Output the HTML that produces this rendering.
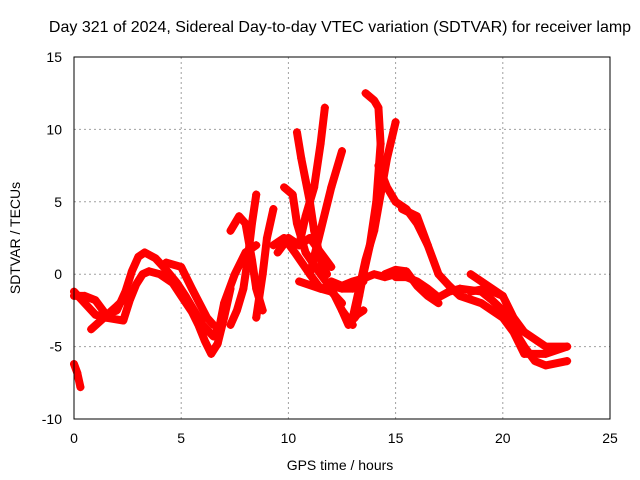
<!DOCTYPE html>
<html><head><meta charset="utf-8"><style>
body{margin:0;background:#fff}
svg{display:block;font-family:"Liberation Sans",sans-serif}
</style></head><body>
<svg id="chart" width="640" height="480">
<rect width="640" height="480" fill="#fff"/>
<text x="340" y="32" font-size="16" text-anchor="middle">Day 321 of 2024, Sidereal Day-to-day VTEC variation (SDTVAR) for receiver lamp</text>
<text x="340" y="470" font-size="14" text-anchor="middle">GPS time / hours</text>
<text x="20" y="238" font-size="14" text-anchor="middle" transform="rotate(-90 20 238)">SDTVAR / TECUs</text>
<g id="grid"></g><g id="ticks"></g><g id="marks"></g>
<rect x="74" y="57" width="536" height="362" fill="none" stroke="#000"/>
</svg>
<script>
const xTicks=[0,5,10,15,20,25];
const yTicks=[-10,-5,0,5,10,15];
const track1=[[0,-6.2],[0.15,-6.8],[0.3,-7.8]];
const track2=[[0,-1.5],[0.5,-1.5],[1,-1.8],[1.5,-2.8],[2,-2.5],[2.4,-1.2],[2.7,0.2],[3,1.2],[3.3,1.5],[3.8,1.1],[4.3,0.3],[4.8,-0.6],[5.2,-1.5],[5.6,-2.5],[6,-3.5],[6.5,-4.3],[6.8,-3.5],[7,-2],[7.5,0],[8,1.5],[8.5,2]];
const track3=[[0,-1.2],[0.5,-2],[1,-2.8],[1.5,-3],[2.3,-3.2],[2.6,-1.8],[2.9,-0.7],[3.2,0],[3.5,0.2],[4,0],[4.6,-0.6],[5,-1.5],[5.5,-2.6],[5.8,-3.5],[6.1,-4.6],[6.4,-5.5],[6.7,-4.8],[7,-3],[7.3,-1]];
const track3b=[[0.8,-3.8],[1.4,-3],[2,-2.2],[2.5,-1.5]];
const track3c=[[4.3,0.8],[5,0.5],[5.5,-1],[6.2,-3],[6.5,-3.5]];
const track4=[[15,-0.2],[15.5,-0.2],[16,-0.5],[16.5,-1],[17,-1.6],[17.5,-1.2],[18,-1],[19,-1.2],[19.5,-1.8],[20,-2.5],[20.5,-3.8],[21,-5],[21.5,-6],[22,-6.3],[23,-6]];
const track5=[[15.3,4.5],[16,4],[16.5,2],[17,0],[17.5,-0.8],[18,-1.5],[19,-2],[20,-3],[20.5,-4],[21,-5.5],[22,-5.5],[23,-5]];
const track6=[[18.5,0],[19,-0.5],[19.5,-1],[20,-1.5],[20.5,-3],[21,-4],[21.5,-4.5],[22,-5],[23,-5]];
const track7=[[18.5,-1.2],[19.2,-1],[20,-1.5]];
const track8=[[13.6,12.5],[14,12],[14.2,11.5],[14.3,9],[14.1,5],[13.8,2],[13.5,0],[13.3,-1.5],[13.1,-3]];
const track9=[[13,-3],[13.3,-1],[13.6,1],[14,3],[14.3,5.5],[14.6,8],[15,10.5]];
const track10=[[14.2,7.5],[14.6,6],[15,5],[15.5,4.5],[16,3.5],[16.5,2]];
const track11=[[10.4,9.8],[10.6,8],[10.8,6.5],[11,5],[11.2,3],[11.5,1],[11.8,0]];
const track12=[[10.5,2],[10.8,4],[11.2,6],[11.5,9],[11.7,11.5]];
const track13=[[11,0],[11.5,3],[12,6],[12.5,8.5]];
const track14=[[9.8,6],[10.2,5.5],[10.4,3.5],[10.8,1.5],[11.5,0],[12,-1],[12.5,-2.5],[13,-3.5]];
const track15=[[9.3,2],[9.8,2.5],[10.3,1.5],[11,0],[11.5,-1],[12,-1.2],[12.5,-2]];
const track16=[[8.5,5.5],[8.3,3.5],[8.1,1],[7.9,-1],[7.6,-2.5],[7.3,-3.5]];
const track17=[[7.3,3],[7.7,4],[8,3.5],[8.3,1],[8.5,-1],[8.8,-2.5]];
const track18=[[8.5,-3],[8.8,0],[9,2.5],[9.3,4.5]];
const track19=[[12,-0.5],[12.5,-0.8],[13,-0.5],[13.5,-0.3],[14,0],[14.5,-0.2],[15,0],[15.5,0]];
const track20=[[10.5,-0.5],[11.5,-1],[12,-0.8],[12.5,-1],[13,-1],[13.5,-0.5]];
const track21=[[14.5,0],[15,0.3],[15.5,0.2],[16,-0.8],[16.5,-1.5],[17,-2]];
const track22=[[12.5,-2.5],[12.8,-3.5],[13.2,-2.8],[13.5,-2.5]];
const track23=[[9.5,1.5],[10,2.5],[10.5,2],[11,2.5],[11.5,1.5],[12,0.5]];
const tracks=[track1,track2,track3,track3b,track3c,track4,track5,track6,track7,track8,track9,track10,track11,track12,track13,track14,track15,track16,track17,track18,track19,track20,track21,track22,track23];
const X=v=>74+(v-0)*(536/25);
const Y=v=>419-(v+10)*(362/25);
const NS="http://www.w3.org/2000/svg";
const grid=document.getElementById('grid'),ticks=document.getElementById('ticks'),marks=document.getElementById('marks');
function mk(tag,attrs,parent){const e=document.createElementNS(NS,tag);for(const k in attrs)e.setAttribute(k,attrs[k]);parent.appendChild(e);return e;}
xTicks.forEach(t=>{
 if(t>0&&t<25){const g=mk('line',{x1:X(t),x2:X(t),y1:57,y2:419,stroke:'#a0a0a0','stroke-dasharray':'2,3'},grid);
 
 }
 const l=mk('text',{x:X(t),y:443,'font-size':14,'text-anchor':'middle'},ticks);l.textContent=t;
 
 
});
yTicks.forEach(t=>{
 if(t>-10&&t<15){const g=mk('line',{x1:74,x2:610,y1:Y(t),y2:Y(t),stroke:'#a0a0a0','stroke-dasharray':'2,3'},grid);
 
 }
 const l=mk('text',{x:62,y:Y(t)+5,'font-size':14,'text-anchor':'end'},ticks);l.textContent=t;
 
 
});
tracks.forEach(tr=>{
 const p=mk('polyline',{points:tr.map(d=>X(d[0])+','+Y(d[1])).join(' '),fill:'none',stroke:'#f00','stroke-width':8,'stroke-linejoin':'round','stroke-linecap':'round'},marks);
 
 
 tr.forEach(d=>{
  const m=mk('path',{d:`M${X(d[0])-4},${Y(d[1])}h8M${X(d[0])},${Y(d[1])-4}v8`,stroke:'#f00','stroke-width':1.5},marks);
  
  
 });
});
</script>
</body></html>
